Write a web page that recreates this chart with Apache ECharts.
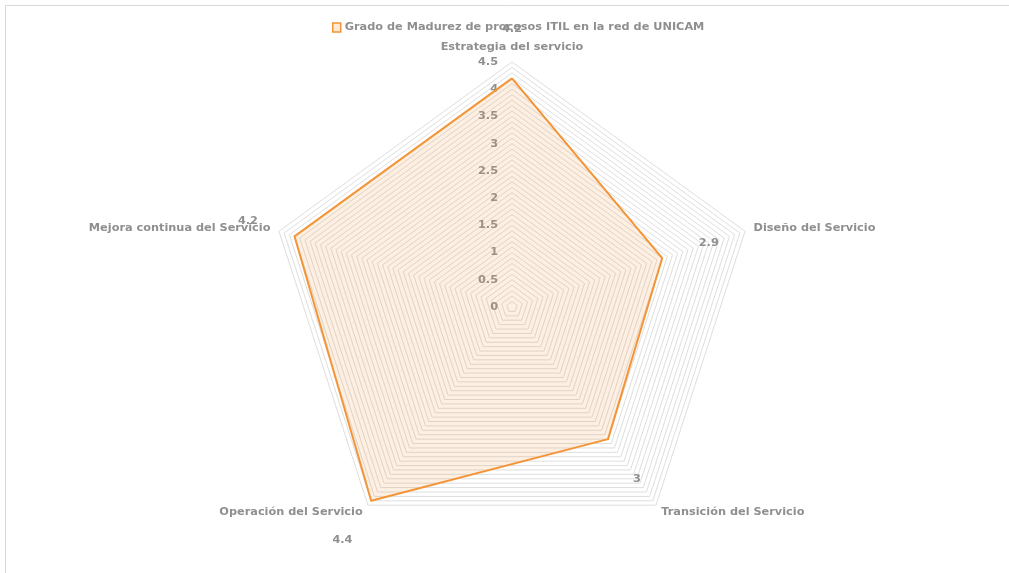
<!DOCTYPE html>
<html>
<head>
<meta charset="utf-8">
<script src="https://cdn.jsdelivr.net/npm/echarts@6/dist/echarts.min.js"></script>
<style>
  html, body { margin: 0; padding: 0; background: #ffffff; }
  #chart { width: 1009px; height: 573px; }
</style>
</head>
<body>
<div id="chart"></div>
<script>
// Procesos ITIL evaluados (ejes del radar, en sentido horario desde arriba)
const categories = [
  'Estrategia del servicio',
  'Diseño del Servicio',
  'Transición del Servicio',
  'Operación del Servicio',
  'Mejora continua del Servicio'
];
// Grado de madurez por proceso
const seriesName = 'Grado de Madurez de procesos ITIL en la red de UNICAM';
const maturity = [4.2, 2.9, 3, 4.4, 4.2];
// Etiquetas de la escala
const tickLabels = ['0', '0.5', '1', '1.5', '2', '2.5', '3', '3.5', '4', '4.5'];
const scaleMax = 4.5;

const CENTER = [512, 307];
const TEXT_GRAY = '#8f8f8f';
const ORANGE = '#F39536';
const FONT = '"DejaVu Sans"';
const FS = 11.3;

// El radar de ECharts avanza en sentido antihorario: se recorre la lista
// al revés (manteniendo el primer eje arriba) para obtener el orden horario.
const order = categories.map((_, i) => (categories.length - i) % categories.length);

const chart = echarts.init(document.getElementById('chart'), null, { renderer: 'canvas' });

const indicators = order.map((idx, k) => {
  const ind = { name: categories[idx], min: 0, max: scaleMax };
  if (k === 0) {
    ind.axisLabel = {
      show: true,
      margin: 14,
      color: TEXT_GRAY,
      fontFamily: FONT,
      fontWeight: 'bold',
      fontSize: FS,
      formatter: function (v) {
        const s = String(Math.round(v * 10) / 10);
        return tickLabels.indexOf(s) >= 0 ? s : '';
      }
    };
  }
  return ind;
});
const values = order.map(idx => maturity[idx]);

chart.setOption({
  animation: false,
  backgroundColor: '#ffffff',
  graphic: [{
    type: 'rect',
    shape: { x: 5.5, y: 5.5, width: 1020, height: 600 },
    style: { fill: 'none', stroke: '#d9d9d9', lineWidth: 1 },
    silent: true
  }],
  legend: {
    top: 17,
    left: 327,
    icon: 'rect',
    itemWidth: 8,
    itemHeight: 9,
    itemGap: 5,
    data: [seriesName],
    itemStyle: { color: '#fde9d6', borderColor: ORANGE, borderWidth: 1.5 },
    textStyle: {
      color: TEXT_GRAY, fontFamily: FONT, fontWeight: 'bold', fontSize: FS,
      padding: [0, 0, 0, -1]
    }
  },
  radar: {
    center: CENTER,
    radius: 245,
    startAngle: 90,
    splitNumber: 45,
    shape: 'polygon',
    indicator: indicators,
    axisName: {
      color: TEXT_GRAY,
      fontFamily: FONT,
      fontWeight: 'bold',
      fontSize: FS
    },
    nameGap: 9,
    axisLine: { show: false },
    axisTick: { show: false },
    axisLabel: { show: false },
    splitLine: { lineStyle: { color: '#dedede', width: 1 } },
    splitArea: { show: false }
  },
  series: [{
    type: 'radar',
    name: seriesName,
    symbol: 'circle',
    symbolSize: 1,
    itemStyle: { color: ORANGE },
    lineStyle: { color: ORANGE, width: 2 },
    areaStyle: { color: 'rgba(247, 150, 70, 0.22)' },
    label: {
      show: true,
      color: TEXT_GRAY,
      fontFamily: FONT,
      fontWeight: 'bold',
      fontSize: FS
    },
    // Cada etiqueta se desplaza hacia afuera, en la dirección de su eje
    labelLayout: function (p) {
      const px = p.rect.x + p.rect.width / 2;
      const py = p.rect.y + p.rect.height / 2;
      const dx = px - CENTER[0];
      const dy = py - CENTER[1];
      const len = Math.sqrt(dx * dx + dy * dy) || 1;
      const off = 49;
      return {
        x: px + dx / len * off,
        y: py + dy / len * off,
        align: 'center',
        verticalAlign: 'middle'
      };
    },
    data: [{ name: seriesName, value: values }]
  }]
});
</script>
</body>
</html>
